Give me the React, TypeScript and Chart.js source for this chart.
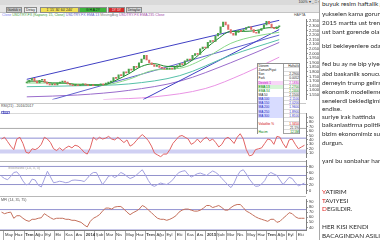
import React, { useEffect, useRef } from "react";
import { Chart, registerables } from "chart.js";
Chart.register(...registerables);

const N = 100;
const FONT = "'Liberation Sans', Arial, sans-serif";

// ---- price (weekly closes) ----
const firstOpen = 1.68;
const closes = [
  1.69, 1.71, 1.73, 1.70, 1.68, 1.71, 1.72, 1.69, 1.67, 1.66,
  1.67, 1.66, 1.68, 1.69, 1.70, 1.69, 1.67, 1.66, 1.65, 1.66,
  1.65, 1.66, 1.67, 1.66, 1.65, 1.66, 1.65, 1.65, 1.66, 1.67,
  1.66, 1.68, 1.69, 1.70, 1.74, 1.73, 1.77, 1.76, 1.80, 1.79,
  1.83, 1.82, 1.86, 1.85, 1.90, 1.94, 1.98, 1.93, 1.90, 1.88,
  1.86, 1.87, 1.85, 1.84, 1.83, 1.83, 1.84, 1.83, 1.85, 1.87,
  1.89, 1.88, 1.92, 1.94, 1.93, 1.98, 2.00, 1.99, 2.05, 2.07,
  2.06, 2.12, 2.14, 2.13, 2.19, 2.22, 2.29, 2.34, 2.31, 2.26,
  2.22, 2.20, 2.23, 2.25, 2.24, 2.26, 2.28, 2.29, 2.26, 2.23,
  2.22, 2.25, 2.27, 2.31, 2.35, 2.32, 2.28, 2.27, 2.29, 2.29,
];
const emaFast = [[0,1.70],[5,1.70],[10,1.68],[15,1.68],[20,1.66],[25,1.66],[30,1.66],[35,1.71],[40,1.78],[45,1.86],[50,1.89],[55,1.86],[60,1.86],[65,1.93],[70,2.05],[75,2.16],[80,2.24],[85,2.24],[90,2.25],[95,2.28],[99,2.28]];
const emaSlow = [[0,1.68],[10,1.68],[20,1.67],[30,1.66],[40,1.72],[50,1.82],[60,1.84],[70,1.95],[80,2.11],[90,2.19],[99,2.23]];
const maTeal = [[0,1.64],[20,1.65],[40,1.67],[60,1.76],[80,1.98],[99,2.15]];
const maPurple = [[0,1.53],[20,1.55],[40,1.60],[60,1.70],[80,1.90],[99,2.12]];
const maPink = [[30,1.50],[50,1.53],[70,1.62],[85,1.78],[99,1.96]];
const channelTop = [[0,1.72],[99,2.36]];
const wedgeBottom = [[45.6,1.50],[99,2.26]];
const channelLow = [[10,1.50],[99,2.20]];
const priceTicks = [1.55,1.60,1.65,1.70,1.75,1.80,1.85,1.90,1.95,2.00,2.05,2.10,2.15,2.20,2.25,2.30,2.35];

// ---- oscillators ----
const rsiValues = [
  42,46,36,26,18,42,46,32,12,10, 20,18,22,30,46,42,34,20,16,22,
  16,22,26,22,28,26,20,12,8,22, 46,40,46,42,44,48,42,40,46,40,
  34,40,26,30,38,46,52,46,38,26, 10,6,2,8,8,18,32,40,48,50,
  46,42,30,34,42,34,42,46,38,42, 34,24,30,42,46,40,32,46,54,42,
  18,4,6,18,20,22,32,42,40,30, 48,46,32,22,40,42,30,20,24,28,
];
const rsiLevels = [100, 66, 44];
const rsiBand = 14;
const rsiTicks = [10,20,30,40,50,60,70,80,90];

const stochValues = [
  47,40,36,47,60,62,50,32,19,22, 38,35,18,12,38,64,45,26,28,31,
  29,26,28,34,35,34,33,30,40,53, 60,60,40,20,33,48,50,43,50,60,
  55,47,40,44,51,60,69,52,33,18, 14,20,25,22,20,27,36,50,60,64,
  66,53,45,50,56,58,54,50,58,65, 60,52,40,30,18,10,25,48,64,69,
  55,38,25,14,15,22,33,52,60,55, 50,35,20,32,44,40,26,16,20,25,
];
const stochLevels = [80, 50, 20];
const stochTicks = [0,20,40,60,80];

const mfiValues = [
  70,67,69,70,58,63,63,58,54,52, 56,56,58,59,67,63,59,56,58,58,
  58,56,56,54,54,52,50,45,41,52, 58,61,65,72,78,78,76,80,81,81,
  76,70,65,69,72,76,83,80,74,69, 63,58,56,56,54,56,59,63,70,74,
  76,76,74,72,72,74,78,83,83,79, 81,83,79,74,74,79,83,85,85,79,
  72,69,65,61,58,56,54,52,56,56, 50,52,58,63,69,67,61,58,58,58,
];
const mfiLevels = [75, 35];
const mfiTicks = [40,50,60,70,80,90];

// ---- date axis ----
const xTickPos = [0.8,4.1,7.4,10.7,14,17.3,20.6,23.9,27.2,30.5,33.8,37.1,40.4,43.7,47,50.3,53.6,56.9,60.2,63.5,66.8,70.1,73.4,76.7,80,83.3,86.6,89.9,93.2,96.5];
const xTickLabels = ["May","Haz","Tem","Ağu","Eyl","Eki","Kas","Ara","2014","Şub","Mar","Nis","May","Haz","Tem","Ağu","Eyl","Eki","Kas","Ara","2015","Şub","Mar","Nis","May","Haz","Tem","Ağu","Eyl","Eki"];

// ---- info table ----
const tableLabels = ["Dönem","Zaman/Fiyat","Son","Fark","Destek 1","EMA 13","EMA 34","MA 50","MA 100","MA 150","MA 200","MA 250","MA 300","","Volatilite %","","Hacim"];
const tableValues = ["Haftalık","","2.2900","0.0052","2.1830","2.2700","2.2400","2.1500","2.1100","2.0200","1.9600","1.8900","1.8100","","1.3450","21.5%","12.5M"];
const tableText = ["#222","#222","#222","#222","#c000c0","#008000","#008000","#222","#2323c0","#2323c0","#2323c0","#2323c0","#2323c0","#222","#d00000","#222","#008000"];
const tableBg = ["#fff","#fff","#fff","#fff","#f8d6f8","#d6f5d6","#fff","#fff","#d8dcff","#d8dcff","#d8dcff","#d8dcff","#d8dcff","#fff","#fff","#fff","#fff"];

// ---- commentary ----
const noteLines = [
  "buyuk resim haftalik grafikte",
  "yukselen kama gorunumu var.",
  "2015 martta ust trend kirildi.",
  "ust bant gorende olabilir.",
  "bizi bekleyenlere odaklanalim.",
  "fed bu ay ne bip yiyecek,",
  "abd baskanlik sonucu",
  "demeyin trump gelirse",
  "ekonomik modellemeler",
  "senelerdi bekledigimiz",
  "endise.",
  "suriye irak hattinda",
  "balkanlastirma politikasi",
  "bizim ekonomimiz su an",
  "durgun.",
  "yani bu sonbahar hareketli",
];
const noteY = [5,15,24,33,47,65,75,84,93,102,110,118,126,135,144,162];
const warnLines = ["YATIRIM","TAVIYESI","DEGILDIR."];
const warnY = [193,202,210];
const footLines = ["HER KISI KENDI","BACAGINDAN ASILIR"];
const footY = [228,237];

const seq = (vals: number[]) => vals.map((y, i) => ({ x: i, y }));
const pairs = (p: number[][]) => p.map(([x, y]) => ({ x, y }));
const hline = (v: number) => [{ x: -0.5, y: v }, { x: N - 0.5, y: v }];

function yAxis(min: number, max: number, ticks: number[], fmt: (v: number) => string) {
  return {
    position: "right",
    min,
    max,
    afterBuildTicks: (s: any) => { s.ticks = ticks.map((v) => ({ value: v })); },
    afterFit: (s: any) => { s.width = 14; },
    ticks: { font: { family: FONT, size: 4 }, color: "#333", padding: 1, autoSkip: false, callback: (v: any) => fmt(Number(v)) },
    grid: { display: true, drawOnChartArea: false, tickLength: 2, color: "#999" },
    border: { display: true, color: "#808080" },
  };
}

function xAxis(show: boolean) {
  if (!show) return { type: "linear", min: -0.5, max: N - 0.5, display: false };
  return {
    type: "linear",
    min: -0.5,
    max: N - 0.5,
    position: "bottom",
    afterBuildTicks: (s: any) => { s.ticks = xTickPos.map((v) => ({ value: v })); },
    afterFit: (s: any) => { s.height = 10; },
    ticks: {
      autoSkip: false, maxRotation: 0, minRotation: 0, align: "start", labelOffset: 1, padding: -8,
      color: "#333",
      font: (ctx: any) => ({ family: FONT, size: 4.2, weight: /^\d{4}$|^Tem$/.test(xTickLabels[ctx.index] || "") ? "bold" : "normal" }),
      callback: (_v: any, i: number) => xTickLabels[i],
    },
    grid: { display: true, drawOnChartArea: false, tickLength: 10, color: "#a8a8a8" },
    border: { display: true, color: "#808080" },
  };
}

function lineDs(data: any[], color: string, width = 1, smooth = false) {
  return {
    type: "line", data, borderColor: color, borderWidth: width, pointRadius: 0,
    fill: false, tension: smooth ? 0.4 : 0, cubicInterpolationMode: smooth ? "monotone" : "default",
  };
}

function baseOptions(scales: any) {
  return {
    responsive: false,
    maintainAspectRatio: false,
    animation: false,
    devicePixelRatio: 1,
    layout: { padding: 0 },
    plugins: { legend: { display: false }, tooltip: { enabled: false } },
    scales,
  };
}

function priceConfig(): any {
  const opens = closes.map((c, i) => (i === 0 ? firstOpen : closes[i - 1]));
  const candles = closes.map((c, i) => ({ x: i, y: [opens[i], c] }));
  const colors = closes.map((c, i) => (c >= opens[i] ? "#4aa04a" : "#e06a66"));
  return {
    type: "line",
    data: {
      datasets: [
        { type: "bar", data: candles, backgroundColor: colors, borderWidth: 0, barThickness: 1.4, minBarLength: 1, grouped: false },
        lineDs(pairs(emaFast), "#1a8a2a", 1, true),
        lineDs(pairs(emaSlow), "#8ad98a", 1, true),
        lineDs(pairs(maTeal), "#55c0a8", 1, true),
        lineDs(pairs(channelTop), "#4040c4"),
        lineDs(pairs(wedgeBottom), "#4040c4"),
        lineDs(pairs(channelLow), "#6262d0"),
        lineDs(pairs(maPurple), "#9a6ccc", 1, true),
        lineDs(pairs(maPink), "#e994e4", 1, true),
      ],
    },
    options: baseOptions({ x: xAxis(false), y: yAxis(1.5, 2.37, priceTicks, (v) => v.toFixed(4)) }),
  };
}

function rsiConfig(): any {
  return {
    type: "line",
    data: {
      datasets: [
        lineDs(seq(rsiValues), "#e26464"),
        ...rsiLevels.map((v, i) => lineDs(hline(v), i === 2 ? "#8c8cd2" : "#ababab")),
        lineDs(hline(rsiBand), "#d0d0f3", 4),
      ],
    },
    options: baseOptions({ x: xAxis(false), y: yAxis(0, 100, rsiTicks, (v) => String(v)) }),
  };
}

function stochConfig(): any {
  return {
    type: "line",
    data: {
      datasets: [
        lineDs(seq(stochValues), "#a2a0e0"),
        ...stochLevels.map((v) => lineDs(hline(v), "#9292cc")),
      ],
    },
    options: baseOptions({ x: xAxis(false), y: yAxis(-10, 100, stochTicks, (v) => String(v)) }),
  };
}

function mfiConfig(): any {
  return {
    type: "line",
    data: {
      datasets: [
        lineDs(seq(mfiValues), "#c4705c"),
        ...mfiLevels.map((v) => lineDs(hline(v), "#9090d0")),
      ],
    },
    options: baseOptions({ x: xAxis(true), y: yAxis(35, 95, mfiTicks, (v) => String(v)) }),
  };
}

const abs = (l: number, t: number, w: number, h: number, extra: any = {}) => ({
  position: "absolute" as const, left: l, top: t, width: w, height: h, ...extra,
});

export default function App() {
  const pRef = useRef<HTMLCanvasElement>(null);
  const rRef = useRef<HTMLCanvasElement>(null);
  const sRef = useRef<HTMLCanvasElement>(null);
  const mRef = useRef<HTMLCanvasElement>(null);

  useEffect(() => {
    const charts = [
      new Chart(pRef.current!, priceConfig()),
      new Chart(rRef.current!, rsiConfig()),
      new Chart(sRef.current!, stochConfig()),
      new Chart(mRef.current!, mfiConfig()),
    ];
    return () => charts.forEach((c) => c.destroy());
  }, []);

  const tiny = { fontFamily: FONT, fontSize: 3.6, lineHeight: "4px", whiteSpace: "nowrap" as const };
  const note = { fontFamily: "Lato, sans-serif", fontSize: 6.4, lineHeight: "8px", color: "#2a2a2a", whiteSpace: "nowrap" as const };
  const btn = (l: number, w: number, bg: string, label: string, color = "#222") => (
    <div style={abs(l, 7, w, 5.5, { background: bg, border: "0.5px solid #8a8a8a", boxSizing: "border-box", ...tiny, fontSize: 3.4, lineHeight: "5px", color, textAlign: "center", overflow: "hidden" })}>{label}</div>
  );

  return (
    <div style={abs(0, 0, 380, 240, { overflow: "hidden", background: "#fff" })}>
      {/* top bar / toolbar */}
      <div style={abs(0, 0, 320, 13, { background: "#e6e6e6", borderBottom: "1px solid #c4c4c4", boxSizing: "border-box" })} />
      <div style={abs(0, 0, 320, 5, { background: "#dadada" })} />
      {btn(6, 16, "#c4c4c4", "Günlük ▾")}
      {btn(24, 13, "#efefef", "Detay")}
      {btn(40, 39, "#f0df55", "1'  15'  30'  60'  240'")}
      {btn(79, 28, "#3cb43c", "G  H  A  2Y", "#102010")}
      {btn(108, 17, "#d42a2a", "1Y 5Y", "#fff")}
      {btn(126, 16, "#d4d4d4", "Detaylar")}
      <div style={abs(286, 0, 34, 5, { ...tiny, fontSize: 3.6, color: "#333", textAlign: "right" })}>100% ▾  _  □  ×</div>

      {/* legend line */}
      <div style={abs(2, 13, 300, 4, tiny)}>
        <span style={{ color: "#7a7af0" }}>Close </span>
        <span style={{ color: "#3a9a3a" }}>USDTRY.FX (Kapanış 15, Close) </span>
        <span style={{ color: "#5a5ac8" }}>USDTRY.FX EMA 13 </span>
        <span style={{ color: "#808080" }}>MovingAvg </span>
        <span style={{ color: "#a048a8" }}>USDTRY.FX EMA 235 Close</span>
      </div>
      <div style={abs(294, 13, 12, 4, { ...tiny, color: "#555" })}>HAFTA</div>

      {/* panels */}
      <canvas ref={pRef} width={320} height={87} style={abs(0, 16, 320, 87)} />
      <div style={abs(0, 103, 306, 1, { background: "#c8c8c8" })} />
      <div style={abs(1, 104, 60, 4, { ...tiny, color: "#444" })}>RSI(21) - 2016/2017</div>
      <canvas ref={rRef} width={320} height={51} style={abs(0, 110, 320, 51)} />
      <div style={abs(1, 110.5, 9, 3.5, { ...tiny, fontSize: 3, lineHeight: "3.5px", color: "#2a2ab0", background: "#e4e8ff", border: "0.5px solid #8a8ad0", boxSizing: "border-box", textAlign: "center" })}>İkaz</div>
      <div style={abs(0, 161, 306, 1, { background: "#b8b8b8" })} />
      <canvas ref={sRef} width={320} height={40} style={abs(0, 157, 320, 40)} />
      <div style={abs(8, 165.5, 60, 4, { ...tiny, color: "#a0a0a0" })}>Stochastic (14, 3, 3)</div>
      <div style={abs(0, 196, 306, 1, { background: "#b8b8b8" })} />
      <canvas ref={mRef} width={320} height={44} style={abs(0, 196, 320, 44)} />
      <div style={abs(1, 197.5, 60, 4, { ...tiny, color: "#555" })}>MFI (14, 35, 75)</div>

      {/* info table */}
      <div style={abs(257, 63, 43, 71.4, { border: "0.5px solid #909090", boxSizing: "border-box", background: "#fff" })}>
        {tableLabels.map((lab, i) => (
          <div key={i} style={{ display: "flex", height: 4.15, boxShadow: "inset 0 -0.4px 0 #b8b8b8" }}>
            <div style={{ width: 26, background: tableBg[i], color: tableText[i], ...tiny, fontSize: 3.2, lineHeight: "4.1px", overflow: "hidden", paddingLeft: 0.5, borderRight: "0.5px solid #a0a0a0" }}>{lab}</div>
            <div style={{ width: 16, color: tableText[i], ...tiny, fontSize: 3.2, lineHeight: "4.1px", textAlign: "right", overflow: "hidden" }}>{tableValues[i]}</div>
          </div>
        ))}
      </div>

      {/* app right border */}
      <div style={abs(319, 0, 1, 240, { background: "#a8a8a8" })} />

      {/* commentary */}
      {noteLines.map((t, i) => (
        <div key={"n" + i} style={abs(322, noteY[i] - 5, 120, 8, note)}>{t}</div>
      ))}
      {warnLines.map((t, i) => (
        <div key={"w" + i} style={abs(322, warnY[i] - 5, 120, 8, note)}>
          <span style={{ color: "#e0201c" }}>{t[0]}</span>{t.slice(1)}
        </div>
      ))}
      {footLines.map((t, i) => (
        <div key={"f" + i} style={abs(322, footY[i] - 5, 120, 8, note)}>{t}</div>
      ))}
    </div>
  );
}
